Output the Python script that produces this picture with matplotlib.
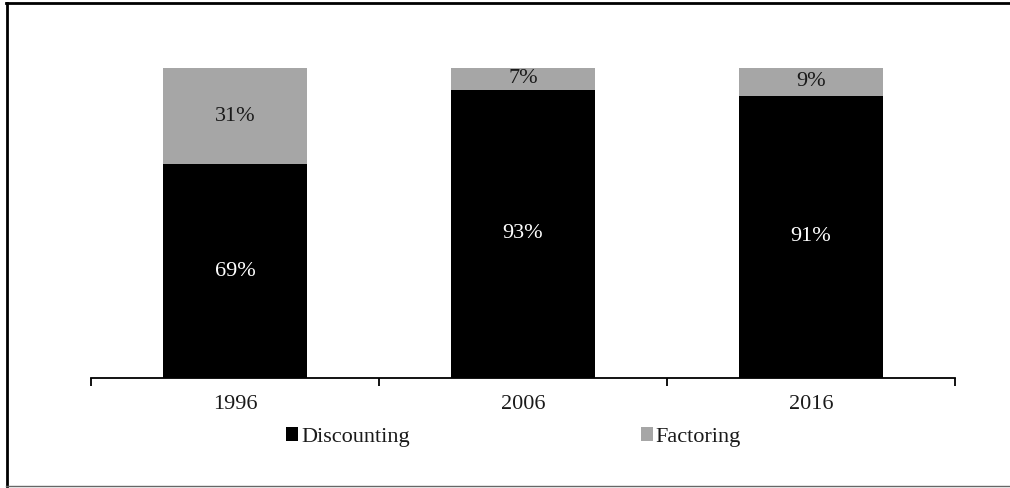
import matplotlib
matplotlib.use("Agg")
import matplotlib.pyplot as plt
from matplotlib.lines import Line2D
from matplotlib.patches import Patch

plt.rcParams['font.family'] = ['Liberation Serif', 'DejaVu Serif']

years = ["1996", "2006", "2016"]
discounting = [69, 93, 91]
factoring = [31, 7, 9]
series_names = ["Discounting", "Factoring"]
colors = ["#000000", "#a6a6a6"]
FS = 16

fig = plt.figure(figsize=(10.10, 4.88), dpi=100)
ax = fig.add_axes([0.0901, 0.2254, 0.8554, 0.6353])

x = list(range(len(years)))
ax.bar(x, discounting, width=0.5, color=colors[0], label=series_names[0])
ax.bar(x, factoring, width=0.5, bottom=discounting, color=colors[1], label=series_names[1])

for xi, d, f in zip(x, discounting, factoring):
    ax.text(xi, d / 2, f"{d}%", ha="center", va="center", color="white", fontsize=FS)
    ax.text(xi, d + f / 2, f"{f}%", ha="center", va="center", color="#1a1a1a", fontsize=FS)

ax.set_xlim(-0.5, len(years) - 0.5)
ax.set_ylim(0, 100)
ax.set_yticks([])
for side in ("top", "right", "left"):
    ax.spines[side].set_visible(False)
ax.spines["bottom"].set_linewidth(1.3)
ax.spines["bottom"].set_color("black")

ax.set_xticks(x)
ax.set_xticklabels(years, fontsize=FS, color="#1a1a1a")
ax.tick_params(axis="x", which="major", length=0, pad=12)
ax.set_xticks([i - 0.5 for i in range(len(years) + 1)], minor=True)
ax.tick_params(axis="x", which="minor", length=6, width=1.3, direction="out", color="black")

handles = [Patch(facecolor=colors[0]), Patch(facecolor=colors[1])]
fig.legend(handles, series_names, loc="center", bbox_to_anchor=(0.5084, 0.1045),
           ncol=2, frameon=False, fontsize=FS, handlelength=0.54, handleheight=0.54,
           handletextpad=0.13, columnspacing=10.4, labelcolor="#1a1a1a")

# frame around the figure
fig.add_artist(Line2D([0.0065, 0.0065], [0.004, 0.994], transform=fig.transFigure,
                      color="black", linewidth=2))
fig.add_artist(Line2D([0.0055, 1.0], [0.993, 0.993], transform=fig.transFigure,
                      color="black", linewidth=2))
fig.add_artist(Line2D([0.0055, 1.0], [0.004, 0.004], transform=fig.transFigure,
                      color="#666666", linewidth=1))

fig.savefig("out.png", dpi=100)
